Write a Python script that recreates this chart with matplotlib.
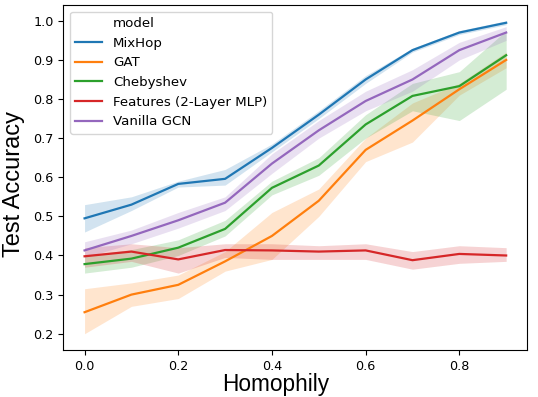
import numpy as np
import matplotlib
matplotlib.use('Agg')
import matplotlib.pyplot as plt
from matplotlib.lines import Line2D

# Homophily levels
homophily = [0.0, 0.1, 0.2, 0.3, 0.4, 0.5, 0.6, 0.7, 0.8, 0.9]

# Mean test accuracy per model, with lower / upper band edges
mixhop = [0.495, 0.53, 0.583, 0.596, 0.675, 0.76, 0.85, 0.925, 0.97, 0.995]
mixhop_lo = [0.46, 0.515, 0.575, 0.58, 0.665, 0.75, 0.84, 0.92, 0.965, 0.99]
mixhop_hi = [0.53, 0.55, 0.59, 0.62, 0.685, 0.77, 0.86, 0.93, 0.975, 1.0]

gat = [0.255, 0.30, 0.325, 0.385, 0.45, 0.54, 0.67, 0.745, 0.825, 0.90]
gat_lo = [0.20, 0.27, 0.29, 0.36, 0.39, 0.50, 0.64, 0.69, 0.81, 0.88]
gat_hi = [0.315, 0.33, 0.35, 0.41, 0.51, 0.57, 0.70, 0.79, 0.84, 0.92]

cheby = [0.378, 0.392, 0.42, 0.468, 0.573, 0.63, 0.735, 0.808, 0.833, 0.912]
cheby_lo = [0.355, 0.37, 0.40, 0.45, 0.555, 0.605, 0.70, 0.77, 0.745, 0.825]
cheby_hi = [0.40, 0.415, 0.44, 0.49, 0.59, 0.65, 0.76, 0.84, 0.87, 0.975]

mlp = [0.398, 0.41, 0.39, 0.414, 0.413, 0.41, 0.413, 0.388, 0.404, 0.40]
mlp_lo = [0.37, 0.385, 0.355, 0.395, 0.39, 0.39, 0.39, 0.365, 0.38, 0.385]
mlp_hi = [0.42, 0.43, 0.42, 0.43, 0.43, 0.425, 0.43, 0.41, 0.425, 0.42]

gcn = [0.413, 0.45, 0.49, 0.535, 0.635, 0.72, 0.795, 0.85, 0.925, 0.97]
gcn_lo = [0.395, 0.43, 0.47, 0.515, 0.61, 0.70, 0.77, 0.82, 0.90, 0.95]
gcn_hi = [0.435, 0.465, 0.51, 0.55, 0.66, 0.745, 0.82, 0.875, 0.945, 0.985]

models = ['MixHop', 'GAT', 'Chebyshev', 'Features (2-Layer MLP)', 'Vanilla GCN']
means = [mixhop, gat, cheby, mlp, gcn]
lows = [mixhop_lo, gat_lo, cheby_lo, mlp_lo, gcn_lo]
highs = [mixhop_hi, gat_hi, cheby_hi, mlp_hi, gcn_hi]
colors = ['#1f77b4', '#ff7f0e', '#2ca02c', '#d62728', '#9467bd']

fig = plt.figure(figsize=(5.38, 3.97), dpi=100)
ax = fig.add_axes([0.118, 0.118, 0.862, 0.869])

for name, m, lo, hi, c in zip(models, means, lows, highs, colors):
    ax.plot(homophily, m, color=c, lw=1.6, label=name)
    ax.fill_between(homophily, lo, hi, color=c, alpha=0.2, lw=0)

ax.set_xlim(-0.045, 0.945)
ax.set_ylim(0.158, 1.04)
ax.set_xticks([0.0, 0.2, 0.4, 0.6, 0.8])
ax.set_yticks(np.arange(0.2, 1.01, 0.1))
ax.tick_params(labelsize=9.2)

# axis labels sit a bit off-centre in the original
ax.set_xlabel('Homophily', fontsize=16.3, family='Liberation Sans')
ax.set_ylabel('Test Accuracy', fontsize=17, family='Liberation Sans')
ax.xaxis.set_label_coords(0.458, -0.067)
ax.yaxis.set_label_coords(-0.083, 0.481)

# seaborn-style legend with a title row
handles, labels = ax.get_legend_handles_labels()
blank = Line2D([], [], color='none')
ax.legend([blank] + handles, ['model'] + labels, loc='upper left', fontsize=9.6)

fig.savefig('out.png', dpi=100)
